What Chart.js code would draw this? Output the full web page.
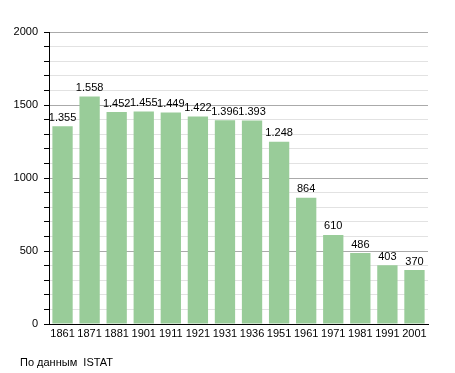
<!DOCTYPE html>
<html>
<head>
<meta charset="utf-8">
<script src="https://cdn.jsdelivr.net/npm/chart.js@4/dist/chart.umd.min.js"></script>
<style>
  body { margin: 0; background: #fff; }
  #wrap { position: relative; width: 455px; height: 373px; }
  #note { position: absolute; left: 20px; top: 356px; font: 11px "Liberation Sans", Arial, sans-serif; color: #000; }
</style>
</head>
<body>
<div id="wrap">
  <canvas id="chart_pop" width="455" height="373"></canvas>
  <div id="note">По данным&nbsp; ISTAT</div>
</div>
<script>
// population by census year
var years = ['1861', '1871', '1881', '1901', '1911', '1921', '1931', '1936', '1951', '1961', '1971', '1981', '1991', '2001'];
var population = [1355, 1558, 1452, 1455, 1449, 1422, 1396, 1393, 1248, 864, 610, 486, 403, 370];
var yTicks = [0, 500, 1000, 1500, 2000];

var font = '"Liberation Sans", Arial, sans-serif';

// draws the number above each bar, with a dot as thousands separator
var valueLabels = {
    id: 'valueLabels',
    afterDatasetsDraw: function(chart) {
        var ctx = chart.ctx;
        var meta = chart.getDatasetMeta(0);
        ctx.save();
        ctx.font = '11px ' + font;
        ctx.fillStyle = '#000';
        ctx.textAlign = 'center';
        ctx.textBaseline = 'bottom';
        meta.data.forEach(function(bar, i) {
            var v = population[i];
            var txt = v >= 1000 ? Math.floor(v / 1000) + '.' + String(v % 1000).padStart(3, '0') : String(v);
            ctx.fillText(txt, bar.x, bar.y - 3);
        });
        ctx.restore();
    }
};

var ctxPop = document.getElementById('chart_pop').getContext('2d');
var chartPop = new Chart(ctxPop, {
    type: 'bar',
    data: {
        labels: years,
        datasets: [{
            data: population,
            backgroundColor: 'rgb(153, 204, 153)',
            borderWidth: 0,
            barPercentage: 0.75,
            categoryPercentage: 1
        }]
    },
    options: {
        responsive: false,
        animation: false,
        layout: { padding: { left: 0, right: 27, top: 32, bottom: 0 } },
        plugins: { legend: { display: false }, tooltip: { enabled: false } },
        scales: {
            x: {
                grid: { display: true, drawOnChartArea: false, drawTicks: false },
                border: { color: '#000', width: 1 },
                ticks: { color: '#000', font: { family: font, size: 11 }, maxRotation: 0, autoSkip: false, padding: 3 },
                afterFit: function(s) { s.height = 49; }
            },
            y: {
                min: 0,
                max: 2000,
                ticks: {
                    stepSize: 100,
                    autoSkip: false,
                    color: '#000',
                    font: { family: font, size: 11 },
                    padding: 6,
                    callback: function(v) { return yTicks.indexOf(v) >= 0 ? v : ''; }
                },
                grid: {
                    color: function(c) { return c.tick && c.tick.value % 500 === 0 ? '#aaaaaa' : '#e2e2e2'; },
                    tickColor: '#000',
                    tickLength: 5
                },
                border: { color: '#000', width: 1 },
                afterFit: function(s) { s.width = 49; }
            }
        }
    },
    plugins: [valueLabels]
});
</script>
</body>
</html>
